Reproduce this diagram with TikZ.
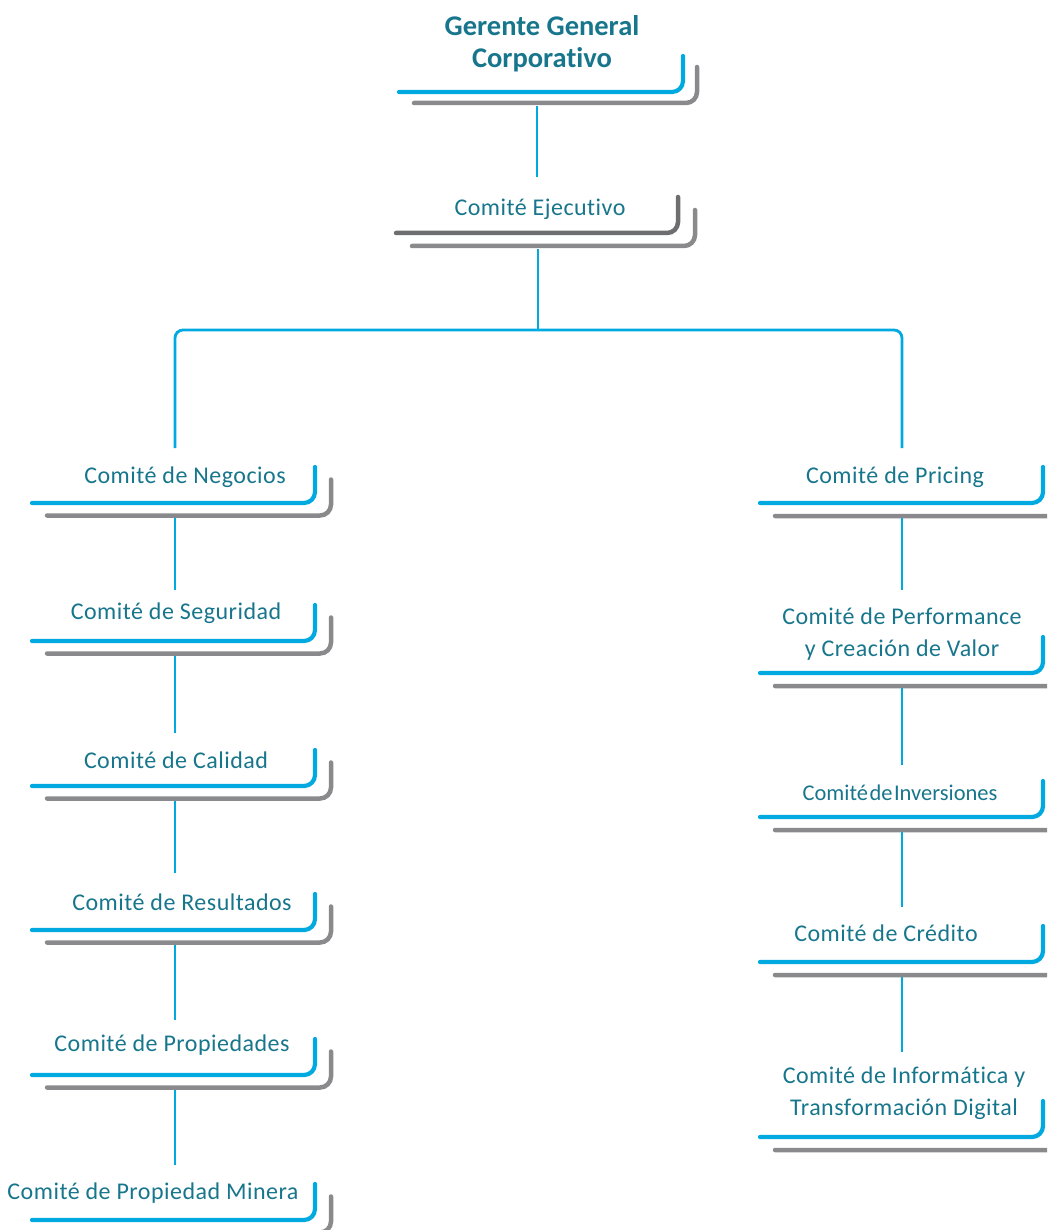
\documentclass[tikz,border=0pt]{standalone}
\usepackage{fontspec}
\newfontfamily\labfont[LetterSpace=2,Ligatures=NoCommon]{Carlito}
\newfontfamily\condfont[Ligatures=NoCommon]{Carlito}
\definecolor{cblue}{RGB}{0,169,224}
\definecolor{cgrey}{RGB}{138,138,140}
\definecolor{cdgrey}{RGB}{110,110,112}
\definecolor{cteal}{RGB}{24,118,140}
\tikzset{
  lab/.style={text=cteal, inner sep=0pt, align=center, font=\labfont\fontsize{24}{32}\selectfont},
  toplab/.style={text=cteal, inner sep=0pt, align=center, font=\condfont\bfseries\fontsize{28.5}{32}\selectfont},
  bluebr/.style={draw=cblue, line width=4.2pt, line cap=round, rounded corners=11pt},
  greybr/.style={draw=cgrey, line width=4.5pt, line cap=round, rounded corners=11pt},
  dgreybr/.style={draw=cdgrey, line width=4.5pt, line cap=round, rounded corners=11pt},
  conn/.style={draw=cblue, line width=2.8pt},
}
% left unit: name, text x, text y, blue line y, text
\newcommand\LeftUnit[5]{%
  \node[lab] (#1) at (#2,#3) {#5};
  \draw[bluebr] (32,#4) -- (315,#4) -- (315,#4-36);
  \draw[greybr] (47,#4+12.5) -- (331,#4+12.5) -- (331,#4-23.5);
  \coordinate (#1-b) at (175,#4+14.5);
}
% right unit
\newcommand\RightUnit[5]{%
  \node[lab] (#1) at (#2,#3) {#5};
  \draw[bluebr] (760,#4) -- (1043,#4) -- (1043,#4-36);
  \draw[greybr] (775,#4+13) -- (1060,#4+13) -- (1060,#4-23);
  \coordinate (#1-b) at (902,#4+15);
}
\begin{document}
\begin{tikzpicture}[x=1pt,y=-1pt]
\useasboundingbox (0,0) rectangle (1047,1230);
\clip (0,0) rectangle (1047,1230);

% top node
\node[toplab] (ggc) at (542,44) {Gerente General\\Corporativo};
\draw[bluebr] (399,92) -- (683,92) -- (683,56);
\draw[greybr] (414,103) -- (697,103) -- (697,67);
\coordinate (ggc-b) at (537,106);

% comite ejecutivo
\node[lab] (ejec) at (540,209) {Comité Ejecutivo};
\draw[dgreybr] (396,233) -- (678,233) -- (678,197);
\draw[greybr] (412,246) -- (695,246) -- (695,210);
\coordinate (ejec-t) at (537,177);
\coordinate (ejec-b) at (538,249);
\coordinate (junc) at (538,330);

% left column
\LeftUnit{neg}{185}{477}{503}{Comité de Negocios}
\LeftUnit{seg}{176}{613}{641}{Comité de Seguridad}
\LeftUnit{cal}{176}{760}{786}{Comité de Calidad}
\LeftUnit{res}{182}{902}{930}{Comité de Resultados}
\LeftUnit{prop}{172}{1045}{1075}{Comité de Propiedades}
\LeftUnit{min}{153}{1193}{1220}{Comité de Propiedad Minera}
\coordinate (neg-t) at (175,448);
\coordinate (seg-t) at (175,590);
\coordinate (cal-t) at (175,733);
\coordinate (res-t) at (175,873);
\coordinate (prop-t) at (175,1020);
\coordinate (min-t) at (175,1165);

% right column
\RightUnit{pri}{895}{477}{503}{Comité de Pricing}
\RightUnit{perf}{902}{634}{673}{Comité de Performance\\y Creación de Valor}
\node[text=cteal, inner sep=0pt, font=\condfont\fontsize{22.5}{28}\selectfont] (inv) at (900,793) {Comité\hspace{1.5pt}de\hspace{1.5pt}Inversiones};
\draw[bluebr] (760,817) -- (1043,817) -- (1043,781);
\draw[greybr] (775,830) -- (1060,830) -- (1060,794);
\coordinate (inv-b) at (902,832);
\RightUnit{cred}{886}{933}{962}{Comité de Crédito}
\RightUnit{inf}{904}{1093}{1137}{Comité de Informática y\\Transformación Digital}
\coordinate (pri-t) at (902,448);
\coordinate (perf-t) at (902,590);
\coordinate (inv-t) at (902,765);
\coordinate (cred-t) at (902,907);
\coordinate (inf-t) at (902,1052);

% connectors
\draw[conn] (ggc-b) -- (ejec-t);
\draw[conn] (ejec-b) -- (junc);
\draw[conn, rounded corners=8pt] (neg-t) |- (junc) -| (pri-t);
\draw[conn] (neg-b) -- (seg-t);
\draw[conn] (seg-b) -- (cal-t);
\draw[conn] (cal-b) -- (res-t);
\draw[conn] (res-b) -- (prop-t);
\draw[conn] (prop-b) -- (min-t);
\draw[conn] (pri-b) -- (perf-t);
\draw[conn] (perf-b) -- (inv-t);
\draw[conn] (inv-b) -- (cred-t);
\draw[conn] (cred-b) -- (inf-t);
\end{tikzpicture}
\end{document}
